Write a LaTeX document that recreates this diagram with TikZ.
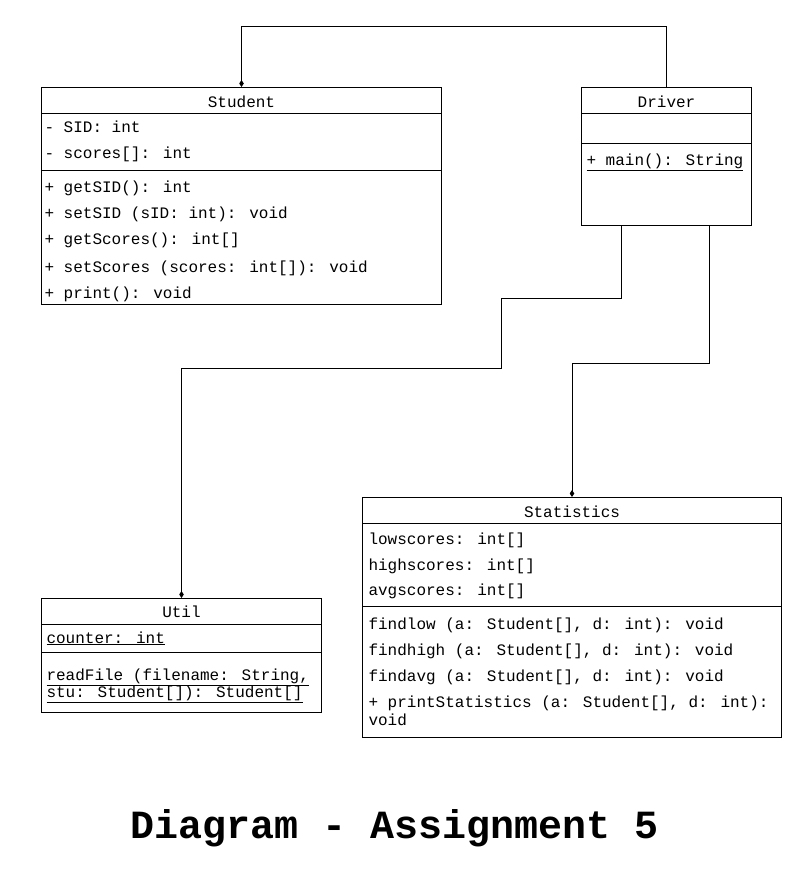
\documentclass[tikz,border=0pt]{standalone}
\usepackage{fontspec}
\setmainfont{Liberation Mono}
\usetikzlibrary{arrows.meta}

\begin{document}
\begin{tikzpicture}[x=1pt, y=-1pt, line width=1pt,
      every node/.append style={inner sep=0pt,font=\fontsize{16}{19}\selectfont},
      assoc/.style={-{Diamond[length=7pt,width=4.5pt]}}]
    \tikzstyle{classbox} = [draw=black,anchor=north west]
    \tikzstyle{header} = [anchor=base]
    \tikzstyle{member} = [anchor=base west]
    \useasboundingbox (0,0) rectangle (802,888);
    % classes
    \node (Student) [classbox,minimum width=400,minimum height=217] at (41,87) {};
    \node (Driver) [classbox,minimum width=170,minimum height=138] at (581,87) {};
    \node (Util) [classbox,minimum width=280,minimum height=114] at (41,598) {};
    \node (Statistics) [classbox,minimum width=419,minimum height=240] at (362,497) {};
    % Student
    \node [header] at ([yshift=-20]Student.north) {Student};
    \draw ([yshift=-27]Student.north west) -- ([yshift=-27]Student.north east);
    \node [member] at ([shift={(3,45)}]Student.north west) {- SID: int};
    \node [member] at ([shift={(3,71)}]Student.north west) {- scores[]: int};
    \draw ([yshift=-83]Student.north west) -- ([yshift=-83]Student.north east);
    \node [member] at ([shift={(3,105)}]Student.north west) {+ getSID(): int};
    \node [member] at ([shift={(3,131)}]Student.north west) {+ setSID (sID: int): void};
    \node [member] at ([shift={(3,157)}]Student.north west) {+ getScores(): int[]};
    \node [member] at ([shift={(3,185)}]Student.north west) {+ setScores (scores: int[]): void};
    \node [member] at ([shift={(3,211)}]Student.north west) {+ print(): void};
    % Driver
    \node [header] at ([yshift=-20]Driver.north) {Driver};
    \draw ([yshift=-27]Driver.north west) -- ([yshift=-27]Driver.north east);
    \draw ([yshift=-56]Driver.north west) -- ([yshift=-56]Driver.north east);
    \node [member] at ([shift={(5,78)}]Driver.north west) {\underline{+ main(): String}};
    % Util
    \node [header] at ([yshift=-19]Util.north) {Util};
    \draw ([yshift=-26]Util.north west) -- ([yshift=-26]Util.north east);
    \node [member] at ([shift={(5,45)}]Util.north west) {\underline{counter: int}};
    \draw ([yshift=-54]Util.north west) -- ([yshift=-54]Util.north east);
    \node [member] at ([shift={(5,82)}]Util.north west) {\underline{readFile (filename: String,}};
    \node [member] at ([shift={(5,99)}]Util.north west) {\underline{stu: Student[]): Student[]}};
    % Statistics
    \node [header] at ([yshift=-20]Statistics.north) {Statistics};
    \draw ([yshift=-26]Statistics.north west) -- ([yshift=-26]Statistics.north east);
    \node [member] at ([shift={(6,47)}]Statistics.north west) {lowscores: int[]};
    \node [member] at ([shift={(6,73)}]Statistics.north west) {highscores: int[]};
    \node [member] at ([shift={(6,98)}]Statistics.north west) {avgscores: int[]};
    \draw ([yshift=-109]Statistics.north west) -- ([yshift=-109]Statistics.north east);
    \node [member] at ([shift={(6,132)}]Statistics.north west) {findlow (a: Student[], d: int): void};
    \node [member] at ([shift={(6,158)}]Statistics.north west) {findhigh (a: Student[], d: int): void};
    \node [member] at ([shift={(6,184)}]Statistics.north west) {findavg (a: Student[], d: int): void};
    \node [member] at ([shift={(6,210)}]Statistics.north west) {+ printStatistics (a: Student[], d: int):};
    \node [member] at ([shift={(6,228)}]Statistics.north west) {void};
    % associations
    \draw[assoc] (Driver.north) -- ++(0,-60) -| (Student.north);
    \draw[assoc] ([xshift=-45]Driver.south) -- ++(0,72) -| ++(-120,70) -| (Util.north);
    \draw[assoc] ([xshift=43]Driver.south) -- ++(0,137) -| (Statistics.north);
    % title
    \node (title) [anchor=base,font=\fontsize{40}{48}\selectfont\bfseries] at (395,838) {Diagram - Assignment 5};
  \end{tikzpicture}
\end{document}
